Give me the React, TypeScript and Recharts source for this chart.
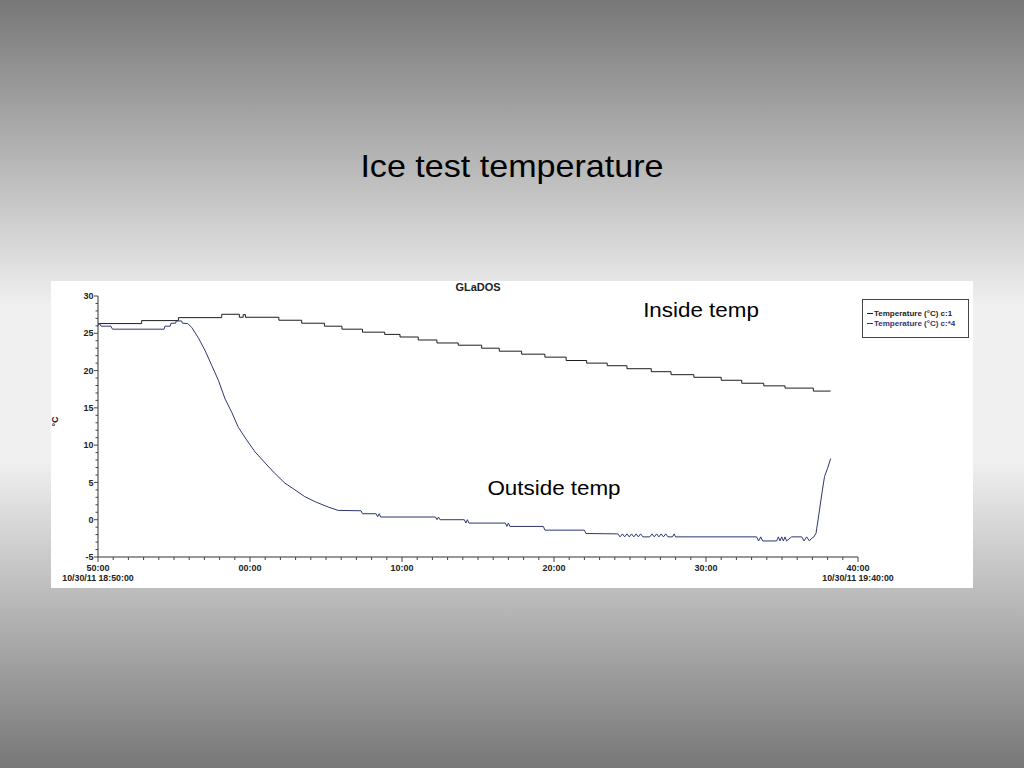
import { LineChart, Line, XAxis, YAxis } from 'recharts'

// minutes after 18:50:00
const insideMinutes = [
  0, 2.87, 5.29, 8.14, 9.3, 9.55, 9.7, 11.9, 13.4, 14.9, 16.05, 17.4, 18.86, 19.87, 21.07, 22.3, 23.7,
  25.24, 26.4, 27.87, 29.4, 30.8, 32.15, 33.5, 34.8, 36.4, 37.7, 39.2, 41.0, 42.35, 43.8, 45.2, 47.06, 48.2,
]
const insideTemp = [
  26.3, 26.7, 27.1, 27.55, 27.15, 27.5, 27.15, 26.75, 26.35, 25.95, 25.55, 25.15, 24.85, 24.5, 24.1, 23.7, 23.4,
  23.0, 22.6, 22.2, 21.8, 21.35, 21.0, 20.65, 20.25, 19.85, 19.45, 19.1, 18.7, 18.3, 17.95, 17.65, 17.25, 17.25,
]

const outsideMinutes = [
  0, 0.1, 0.2, 0.85, 0.95, 4.35, 4.4, 4.75, 4.8, 5.1, 5.15, 5.5, 5.55, 5.9, 6.16, 6.6, 7.04, 7.48, 7.92,
  8.36, 8.8, 9.23, 9.78, 10.33, 11.0, 11.64, 12.3, 12.96, 13.6, 14.3, 15.15, 15.8, 17.3, 17.4, 18.3, 18.4,
  18.5, 18.6, 22.2, 22.3, 22.4, 22.5, 24.1, 24.2, 24.3, 24.4, 26.8, 26.9, 27.0, 27.1, 29.3, 29.4, 32.0, 32.1,
  34.2, 34.35, 34.5, 34.65, 34.8, 34.95, 35.1, 35.25, 35.4, 35.55, 35.7, 35.85, 36.3, 36.45, 36.6, 36.75,
  36.9, 37.05, 37.2, 37.35, 37.5, 37.8, 37.9, 38.0, 43.33, 43.46, 43.6, 43.73, 44.65, 44.76, 44.87, 44.98,
  45.09, 45.2, 45.3, 45.63, 46.3, 46.45, 46.62, 46.8, 46.95, 47.1, 47.24, 47.44, 47.63, 47.8, 48.0, 48.2,
]
const outsideTemp = [
  26.0, 26.3, 25.95, 25.95, 25.55, 25.55, 25.95, 25.95, 26.35, 26.35, 26.65, 26.65, 26.35, 26.3, 25.8, 24.4, 22.7, 20.7, 18.7,
  16.2, 14.4, 12.4, 10.7, 9.1, 7.6, 6.2, 4.9, 4.0, 3.1, 2.4, 1.7, 1.25, 1.2, 0.8, 0.8, 0.4,
  0.8, 0.36, 0.36, 0.0, 0.36, 0.0, 0.0, -0.45, 0.0, -0.45, -0.45, -0.9, -0.45, -0.9, -0.9, -1.4, -1.4, -1.85,
  -1.9, -2.3, -1.9, -2.3, -1.9, -2.3, -1.9, -2.3, -1.9, -2.3, -1.9, -2.3, -2.3, -1.9, -2.3, -1.9,
  -2.3, -1.9, -2.3, -1.9, -2.3, -2.3, -1.9, -2.3, -2.3, -2.85, -2.3, -2.85, -2.85, -2.3, -2.85, -2.3,
  -2.85, -2.3, -2.85, -2.3, -2.3, -2.85, -2.3, -2.85, -2.5, -2.3, -1.8, 0.9, 3.6, 5.8, 6.9, 8.2,
]

const seriesNames = ['Temperature (°C) c:1', 'Temperature (°C) c:*4']
const seriesColors = ['#1e1e1e', '#2f3672']
const xTickLabels = ['50:00', '00:00', '10:00', '20:00', '30:00', '40:00']
const xDateLabels = ['10/30/11 18:50:00', '', '', '', '', '10/30/11 19:40:00']
const yTickLabels = ['-5', '0', '5', '10', '15', '20', '25', '30']

const insideData = insideMinutes.map((t, i) => ({ t, v: insideTemp[i] }))
const outsideData = outsideMinutes.map((t, i) => ({ t, v: outsideTemp[i] }))

const xTicks = Array.from({ length: 51 }, (_, i) => i)
const yTicks = Array.from({ length: 36 }, (_, i) => i - 5)

const font = '"Liberation Sans", Arial, sans-serif'

function XTick({ x, y, payload }: any) {
  const v = payload.value
  const major = v % 10 === 0
  const idx = v / 10
  return (
    <g>
      <line x1={x} x2={x} y1={y} y2={y + (major ? 5 : 3)} stroke="#444" />
      {major && (
        <text x={x} y={y + 13.5} textAnchor="middle" fontSize={9} fontWeight="bold" fill="#222" fontFamily={font}>
          {xTickLabels[idx]}
        </text>
      )}
      {major && xDateLabels[idx] && (
        <text x={x} y={y + 24} textAnchor="middle" fontSize={8.8} fontWeight="bold" fill="#222" fontFamily={font}>
          {xDateLabels[idx]}
        </text>
      )}
    </g>
  )
}

function YTick({ x, y, payload }: any) {
  const v = payload.value
  const major = v % 5 === 0
  return (
    <g>
      <line x1={x} x2={x - (major ? 4 : 2.5)} y1={y} y2={y} stroke="#444" />
      {major && (
        <text x={x - 4.5} y={y + 3.2} textAnchor="end" fontSize={9} fontWeight="bold" fill="#222" fontFamily={font}>
          {yTickLabels[(v + 5) / 5]}
        </text>
      )}
    </g>
  )
}

function LegendBox() {
  return (
    <div
      style={{
        position: 'absolute',
        left: 862,
        top: 299,
        width: 107,
        height: 39,
        border: '1px solid #444',
        background: '#fff',
        fontFamily: font,
        fontSize: 8,
        fontWeight: 'bold',
        paddingTop: 9,
        boxSizing: 'border-box',
        lineHeight: '10px',
      }}
    >
      {seriesNames.map((name, i) => (
        <div key={name} style={{ color: seriesColors[i], whiteSpace: 'nowrap', paddingLeft: 4 }}>
          <span style={{ display: 'inline-block', width: 6, height: 1, background: seriesColors[i], verticalAlign: 'middle', marginRight: 1 }} />
          {name}
        </div>
      ))}
    </div>
  )
}

export default function App() {
  return (
    <div
      style={{
        position: 'absolute',
        left: 0,
        top: 0,
        width: 1024,
        height: 768,
        background: 'linear-gradient(to bottom, #777 0%, #f0f0f0 40%, #f0f0f0 60%, #777 100%)',
        overflow: 'hidden',
      }}
    >
      <div style={{ position: 'absolute', left: 51, top: 281, width: 922, height: 307, background: '#fff' }}>
        <LineChart width={922} height={307} margin={{ top: 15, right: 115, bottom: 0, left: 0 }}>
          <XAxis
            type="number"
            dataKey="t"
            domain={[0, 50]}
            ticks={xTicks}
            interval={0}
            tickSize={0}
            tickMargin={0}
            height={31}
            stroke="#333"
            tick={<XTick />}
            allowDuplicatedCategory={false}
          />
          <YAxis
            type="number"
            dataKey="v"
            domain={[-5, 30]}
            ticks={yTicks}
            interval={0}
            tickSize={0}
            tickMargin={0}
            width={47}
            stroke="#333"
            tick={<YTick />}
            label={{ value: '°C', angle: -90, position: 'insideLeft', offset: 4, fontSize: 9, fontWeight: 'bold', fill: '#222', fontFamily: font }}
          />
          <Line
            data={insideData}
            dataKey="v"
            name={seriesNames[0]}
            type="stepAfter"
            stroke={seriesColors[0]}
            strokeWidth={1}
            dot={false}
            isAnimationActive={false}
          />
          <Line
            data={outsideData}
            dataKey="v"
            name={seriesNames[1]}
            type="linear"
            stroke={seriesColors[1]}
            strokeWidth={1}
            dot={false}
            isAnimationActive={false}
          />
        </LineChart>
      </div>
      <LegendBox />
      <svg width={1024} height={768} style={{ position: 'absolute', left: 0, top: 0, pointerEvents: 'none' }}>
        <text x={512} y={177} textAnchor="middle" fontSize={31} fontFamily={font} fill="#000" transform="translate(512 0) scale(1.1 1) translate(-512 0)">
          Ice test temperature
        </text>
        <text x={478} y={291} textAnchor="middle" fontSize={11} fontWeight="bold" fontFamily={font} fill="#222">
          GLaDOS
        </text>
        <text x={701} y={317} textAnchor="middle" fontSize={20} fontFamily={font} fill="#000" transform="translate(701 0) scale(1.12 1) translate(-701 0)">
          Inside temp
        </text>
        <text x={554} y={495} textAnchor="middle" fontSize={20} fontFamily={font} fill="#000" transform="translate(554 0) scale(1.12 1) translate(-554 0)">
          Outside temp
        </text>
      </svg>
    </div>
  )
}
